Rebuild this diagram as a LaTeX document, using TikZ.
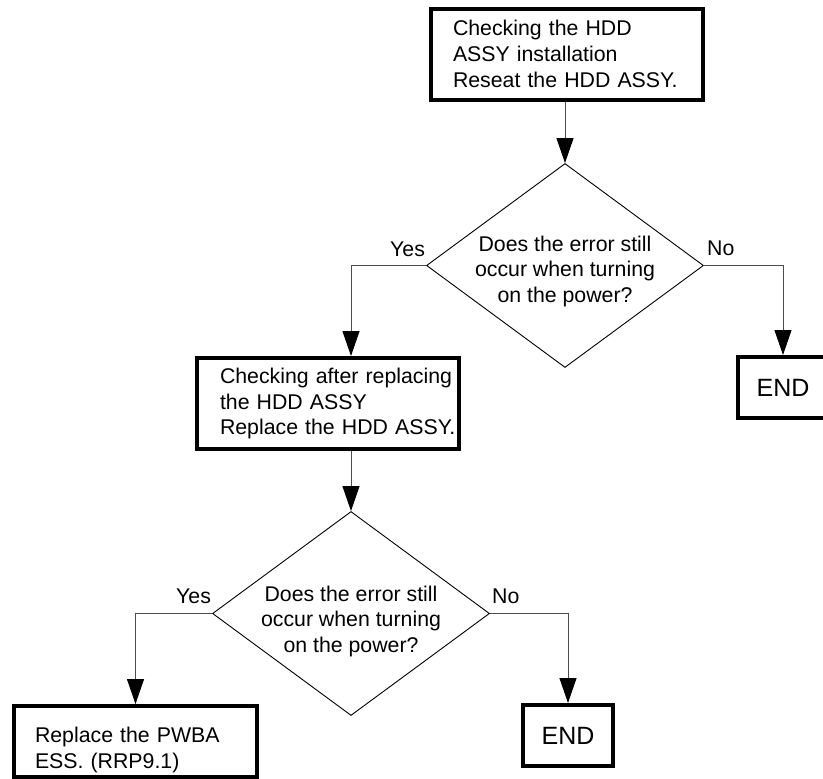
\documentclass[tikz,border=0pt]{standalone}
\usepackage{fontspec}
\setmainfont{Liberation Sans}
\usetikzlibrary{arrows.meta,shapes.geometric}
\begin{document}
\begin{tikzpicture}[x=1pt,y=-1pt,
  every node/.style={font=\fontsize{21.3}{25.7}\selectfont},
  procbox/.style={draw=black, line width=4pt, minimum height=91pt, align=left, inner sep=0pt},
  endbox/.style={draw=black, line width=4pt, minimum width=90pt, minimum height=61pt, inner sep=0pt, font=\fontsize{25}{30}\selectfont},
  decision/.style={diamond, draw=black, line width=0.9pt, minimum width=277pt, minimum height=204pt, inner sep=0pt},
  qtext/.style={align=center, inner sep=0pt},
  lbl/.style={anchor=base west, inner sep=0pt},
  flow/.style={draw=black!70, line width=1pt, -{Triangle[length=25pt,width=17pt,black]}}
]
\useasboundingbox (0,0) rectangle (823,779);

% process boxes
\node[procbox, text width=228pt, minimum width=272pt] (chk) at (567,54)
  {Checking the HDD\\ASSY installation\\Reseat the HDD ASSY.};
\node[procbox, text width=216pt, minimum width=262pt] (rep) at (328,403.5)
  {\mbox{Checking after replacing}\\the HDD ASSY\\\mbox{Replace the HDD ASSY.}};
\node[procbox, text width=201pt, minimum width=243pt, minimum height=71pt, text height=33pt] (pwba) at (135.5,741.5)
  {Replace the PWBA\\ESS. (RRP9.1)};

% end boxes
\node[endbox] (end1) at (783,387.5) {END};
\node[endbox] (end2) at (568,735.5) {END};

% decisions
\node[decision] (d1) at (565,265.5) {};
\node[qtext] (q1) at (565,271.4) {Does the error still\\occur when turning\\on the power?};
\node[decision] (d2) at (351,613.5) {};
\node[qtext] (q2) at (351,621.4) {Does the error still\\occur when turning\\on the power?};

% labels
\node[lbl] (y1) at (390,256) {Yes};
\node[lbl] (n1) at (707,255) {No};
\node[lbl] (y2) at (176,603) {Yes};
\node[lbl] (n2) at (492,603) {No};

% connectors
\draw[flow] (d1.north |- chk.south) -- (d1.north);
\draw[flow] (d1.west) -| (d2.north |- rep.north);
\draw[flow] (d2.north |- rep.south) -- (d2.north);
\draw[flow] (d1.east) -| (end1.north);
\draw[flow] (d2.west) -| (pwba.north);
\draw[flow] (d2.east) -| (end2.north);
\end{tikzpicture}
\end{document}
